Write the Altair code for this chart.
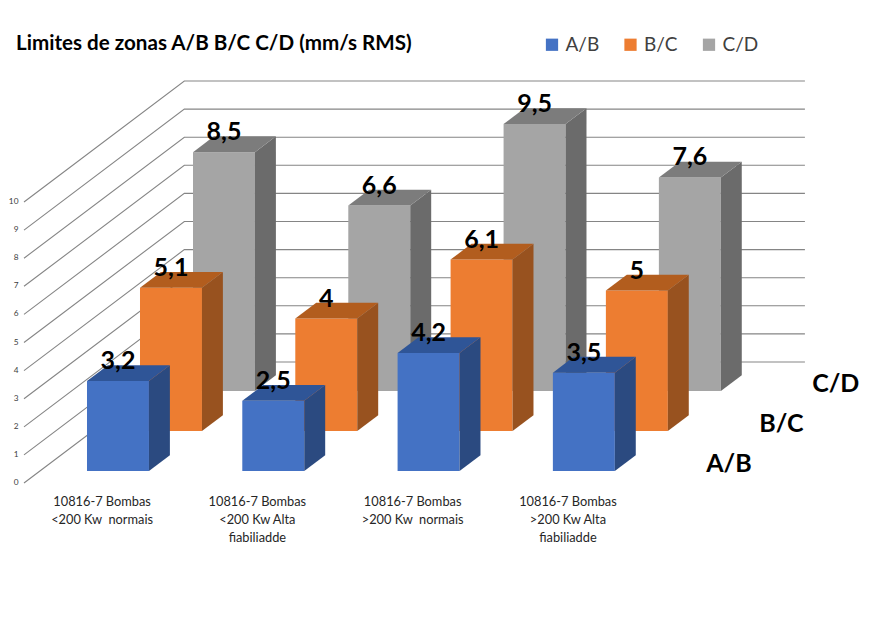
import altair as alt

# --- chart content ---
categories = [
    ["10816-7 Bombas", "<200 Kw\u00a0 normais"],
    ["10816-7 Bombas", "<200 Kw Alta", "fiabiliadde"],
    ["10816-7 Bombas", ">200 Kw\u00a0 normais"],
    ["10816-7 Bombas", ">200 Kw Alta", "fiabiliadde"],
]
series_names = ["A/B", "B/C", "C/D"]
values_ab = [3.2, 2.5, 4.2, 3.5]
values_bc = [5.1, 4, 6.1, 5]
values_cd = [8.5, 6.6, 9.5, 7.6]
tick_values = [0, 1, 2, 3, 4, 5, 6, 7, 8, 9, 10]
title_text = "Limites de zonas A/B B/C C/D (mm/s RMS)"
front_colors = ["#4472C4", "#ED7D31", "#A5A5A5"]
side_colors = ["#2B4A80", "#98521F", "#6B6B6B"]
top_colors = ["#2F5597", "#B25D1E", "#7C7C7C"]

# --- oblique projection of the 3-D box ---
SX, SY = 0.3413, 1.4235      # shear per series step
W, BD = 0.399, 0.395         # bar width, bar depth
FRONT, BACK = -0.3, 2.725    # floor extent in series steps
LEFT, RIGHT = -0.3033, 4.623 # wall extent in category units

xs = alt.Scale(domain=[-0.5087, 4.997], nice=False, zero=False)
ys = alt.Scale(domain=[-4.874, 16.476], nice=False, zero=False)

all_values = [values_ab, values_bc, values_cd]
bars = [
    {"cat": c, "depth": s, "serie": series_names[s], "value": all_values[s][c]}
    for s in range(3) for c in range(4)
]
bar_edges = [dict(b, t=t) for b in bars for t in (0, 1)]


def X(field, **kw):
    return alt.X(field, type="quantitative", scale=xs, axis=None, **kw)


def Y(field, **kw):
    return alt.Y(field, type="quantitative", scale=ys, axis=None, **kw)


# back wall + floor grid
grid_rows = [{"v": v, "pt": p} for v in tick_values for p in range(3)]
grid = (
    alt.Chart(alt.Data(values=grid_rows))
    .transform_calculate(
        d=f"datum.pt==0 ? {FRONT} : {BACK}",
        px=f"datum.pt==2 ? {RIGHT} : {LEFT} + datum.d*{SX}",
        py=f"datum.v + datum.d*{SY}",
    )
    .mark_line(color="#858585", strokeWidth=1.1)
    .encode(x=X("px"), y=Y("py"), detail="v:N", order="pt:Q")
)

# value tick labels
tick_labels = (
    alt.Chart(alt.Data(values=[{"v": v} for v in tick_values]))
    .transform_calculate(
        px=f"{LEFT} + {FRONT}*{SX}",
        py=f"datum.v + {FRONT}*{SY}",
    )
    .mark_text(font="Lato", fontSize=8.3, color="#404040", align="right", baseline="middle", dx=-5.5)
    .encode(x=X("px"), y=Y("py"), text=alt.Text("v:N"))
)

legend = alt.Legend(
    title=None, orient="none", legendX=534.5, legendY=27, direction="horizontal",
    columns=3, columnPadding=21.5, symbolType="square", symbolSize=150,
    symbolStrokeWidth=0, labelFont="Lato", labelFontSize=19, labelColor="#404040",
    labelOffset=4, labelLimit=60,
)


def series_layers(s):
    base = alt.Chart(alt.Data(values=bars)).transform_filter(f"datum.depth=={s}")
    edges = alt.Chart(alt.Data(values=bar_edges)).transform_filter(f"datum.depth=={s}")
    front = (
        base.transform_calculate(
            x1=f"datum.cat + datum.depth*{SX}",
            x2=f"datum.cat + datum.depth*{SX} + {W}",
            y1=f"datum.depth*{SY}",
            y2=f"datum.value + datum.depth*{SY}",
        )
        .mark_rect()
        .encode(
            x=X("x1"), x2="x2:Q", y=Y("y1"), y2="y2:Q",
            color=alt.Color("serie:N", scale=alt.Scale(domain=series_names, range=front_colors), legend=legend),
        )
    )
    side = (
        edges.transform_calculate(
            px=f"datum.cat + {W} + (datum.depth + datum.t*{BD})*{SX}",
            y1=f"(datum.depth + datum.t*{BD})*{SY}",
            y2=f"datum.value + (datum.depth + datum.t*{BD})*{SY}",
        )
        .mark_area(color=side_colors[s], orient="vertical")
        .encode(x=X("px"), y=Y("y1"), y2="y2:Q", detail="cat:N")
    )
    top = (
        edges.transform_calculate(
            py=f"datum.value + (datum.depth + datum.t*{BD})*{SY}",
            x1=f"datum.cat + (datum.depth + datum.t*{BD})*{SX}",
            x2=f"datum.cat + {W} + (datum.depth + datum.t*{BD})*{SX}",
        )
        .mark_area(color=top_colors[s], orient="horizontal")
        .encode(y=Y("py"), x=X("x1"), x2="x2:Q", detail="cat:N")
    )
    return [front, side, top]


# data labels on the bars
value_labels = (
    alt.Chart(alt.Data(values=bars))
    .transform_calculate(
        px=f"datum.cat + {W}/2 + datum.depth*{SX}",
        py=f"datum.value + datum.depth*{SY}",
        label="replace(toString(datum.value), '.', ',')",
    )
    .mark_text(font="Lato", fontWeight="bold", fontSize=25, color="#000000", align="center", baseline="alphabetic", dy=-12)
    .encode(x=X("px"), y=Y("py"), text=alt.Text("label:N"))
)

# category labels under the front floor edge
cat_rows = [{"cat": i, "label": lines} for i, lines in enumerate(categories)]
cat_labels = (
    alt.Chart(alt.Data(values=cat_rows))
    .transform_calculate(px=f"datum.cat + {W}/2 + {FRONT}*{SX}", py="-1.25")
    .mark_text(font="Lato", fontSize=12.8, color="#262626", align="center", baseline="alphabetic", lineHeight=17.7)
    .encode(x=X("px"), y=Y("py"), text=alt.Text("label:N"))
)

# series labels on the depth axis
serie_rows = [{"depth": i, "label": n} for i, n in enumerate(series_names)]
serie_labels = (
    alt.Chart(alt.Data(values=serie_rows))
    .transform_calculate(px=f"4 + datum.depth*{SX}", py=f"datum.depth*{SY}")
    .mark_text(font="Lato", fontWeight="bold", fontSize=25, color="#000000", align="left", baseline="alphabetic", dx=-2, dy=1)
    .encode(x=X("px"), y=Y("py"), text=alt.Text("label:N"))
)

layers = [grid, tick_labels]
for s in (2, 1, 0):
    layers += series_layers(s)
layers += [value_labels, cat_labels, serie_labels]

chart = (
    alt.layer(*layers)
    .properties(
        width=855, height=600, padding=0,
        autosize=alt.AutoSizeParams(type="none"),
        background="#FFFFFF",
        title=alt.TitleParams(
            text=title_text, anchor="start", frame="group", font="Lato", fontWeight="bold",
            fontSize=20.6, color="#000000", baseline="alphabetic", offset=0, dx=8, dy=63,
        ),
    )
    .configure_view(stroke=None)
)

chart.save("out.html", embed_options={"renderer": "svg", "actions": False})
